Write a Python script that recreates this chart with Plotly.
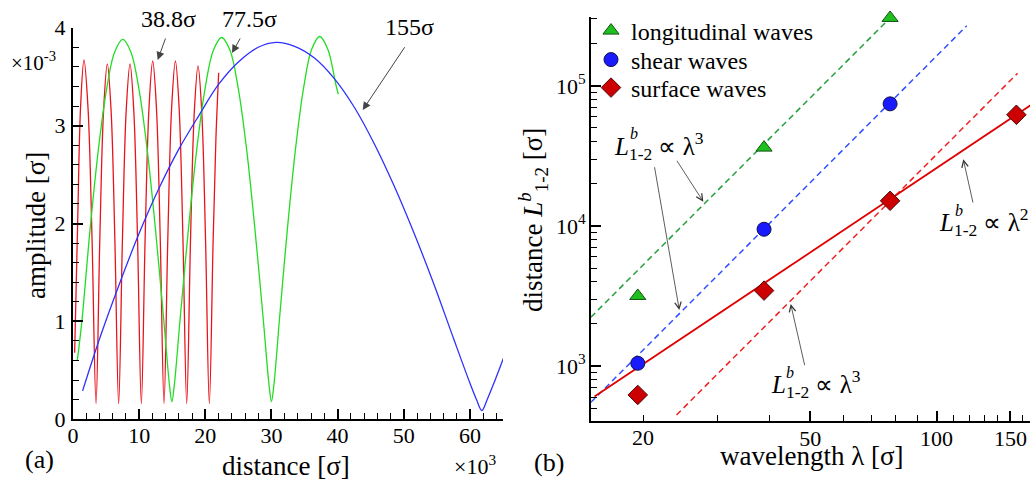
import plotly.graph_objects as go

W, H = 1030, 480
FONT = "Liberation Serif"

# ---------------- panel (a): amplitude vs distance ----------------
# distance in units of 10^3 sigma, amplitude in units of 10^-3 sigma
red_x = [0.25, 0.70, 1.15, 1.66, 2.27, 2.88, 3.48,
         4.05, 4.62, 5.19, 5.76, 6.33, 6.90,
         7.47, 8.04, 8.62, 9.19, 9.76, 10.33,
         10.90, 11.48, 12.05, 12.62, 13.19, 13.76,
         14.33, 14.90, 15.48, 16.05, 16.62, 17.19,
         17.76, 18.33, 18.90, 19.47, 20.04, 20.61,
         21.18, 21.60, 22.02]
red_y = [0.68, 2.00, 3.20, 3.67, 3.18, 1.84, 0.16,
         1.83, 3.15, 3.63, 3.15, 1.83, 0.16,
         1.83, 3.15, 3.63, 3.15, 1.83, 0.16,
         1.84, 3.17, 3.66, 3.17, 1.84, 0.16,
         1.84, 3.17, 3.66, 3.17, 1.84, 0.16,
         1.82, 3.13, 3.61, 3.13, 1.82, 0.16,
         1.82, 2.86, 3.54]

green_x = [0.65, 1.34, 2.58, 3.81, 5.05, 6.29, 7.53, 8.76, 10.00, 11.24, 12.47, 13.71, 14.60, 14.95,
           15.30, 16.20, 17.46, 18.71, 19.97, 21.22, 22.48, 23.73, 24.98, 26.24, 27.49, 28.75, 29.65, 30.00,
           30.35, 31.22, 32.43, 33.65, 34.87, 36.08, 37.30, 38.52, 39.73, 40.10]
green_y = [0.60, 1.00, 1.94, 2.74, 3.36, 3.75, 3.88, 3.75, 3.36, 2.74, 1.94, 1.02, 0.34, 0.18,
           0.34, 1.03, 1.95, 2.76, 3.38, 3.77, 3.90, 3.77, 3.38, 2.76, 1.95, 1.03, 0.34, 0.18,
           0.34, 1.03, 1.96, 2.77, 3.39, 3.78, 3.91, 3.78, 3.42, 3.32]

blue_x = [1.45, 4.0, 7.0, 10.0, 13.0, 16.0, 19.0, 22.0, 25.0, 28.0, 30.7, 33.5, 36.5, 39.5,
          42.5, 45.5, 48.5, 51.5, 54.5, 57.5, 60.0, 61.0, 61.8, 62.6, 63.8, 65.1]
blue_y = [0.29, 0.82, 1.38, 1.90, 2.36, 2.76, 3.10, 3.42, 3.65, 3.80, 3.85, 3.81, 3.69, 3.48,
          3.19, 2.82, 2.39, 1.91, 1.39, 0.83, 0.37, 0.20, 0.09, 0.20, 0.40, 0.63]

a_xticks = [0, 10, 20, 30, 40, 50, 60]
a_yticks = [0, 1, 2, 3, 4]

# ---------------- panel (b): distance L vs wavelength ----------------
lam_long = [19.4, 38.8, 77.5]
L_long = [3160, 36200, 305000]
lam_shear = [19.4, 38.8, 77.5]
L_shear = [1045, 9460, 74300]
lam_surf = [19.4, 38.8, 77.5, 155]
L_surf = [621, 3450, 15100, 62100]

# power-law guide lines (end points)
fit_long_lam, fit_long_L = [15, 77.5], [2230, 305000]
fit_shear_lam, fit_shear_L = [15, 118], [550, 268000]
fit_surf3_lam, fit_surf3_L = [24, 156], [447, 122800]
fit_surf2_lam, fit_surf2_L = [15.3, 175], [605, 79170]

b_xticks = [50, 100, 150]
b_xminor = [20, 30, 40, 60, 70, 80, 90, 110, 120, 130, 140, 160]
b_yticks = [1e3, 1e4, 1e5]
b_yticktext = ["10<sup>3</sup>", "10<sup>4</sup>", "10<sup>5</sup>"]
b_yminor = [400, 500, 600, 700, 800, 900,
            2000, 3000, 4000, 5000, 6000, 7000, 8000, 9000,
            20000, 30000, 40000, 50000, 60000, 70000, 80000, 90000,
            200000, 300000]

fig = go.Figure()

# panel (a) curves
fig.add_trace(go.Scatter(x=red_x, y=red_y, mode="lines", xaxis="x", yaxis="y",
                         line=dict(color="#e8141c", width=1.3, shape="spline", smoothing=1),
                         showlegend=False, hoverinfo="skip"))
fig.add_trace(go.Scatter(x=green_x, y=green_y, mode="lines", xaxis="x", yaxis="y",
                         line=dict(color="#22dd22", width=1.3, shape="spline", smoothing=1),
                         showlegend=False, hoverinfo="skip"))
fig.add_trace(go.Scatter(x=blue_x, y=blue_y, mode="lines", xaxis="x", yaxis="y",
                         line=dict(color="#3030ff", width=1.3, shape="spline", smoothing=1),
                         showlegend=False, hoverinfo="skip"))

# panel (b) guide lines
dash = "6px,4px"
fig.add_trace(go.Scatter(x=fit_long_lam, y=fit_long_L, mode="lines", xaxis="x2", yaxis="y2",
                         line=dict(color="#22a03a", width=1.5, dash=dash), showlegend=False))
fig.add_trace(go.Scatter(x=fit_shear_lam, y=fit_shear_L, mode="lines", xaxis="x2", yaxis="y2",
                         line=dict(color="#3050ff", width=1.5, dash=dash), showlegend=False))
fig.add_trace(go.Scatter(x=fit_surf3_lam, y=fit_surf3_L, mode="lines", xaxis="x2", yaxis="y2",
                         line=dict(color="#ee2020", width=1.5, dash=dash), showlegend=False))
fig.add_trace(go.Scatter(x=fit_surf2_lam, y=fit_surf2_L, mode="lines", xaxis="x2", yaxis="y2",
                         line=dict(color="#e00000", width=1.8), showlegend=False))

# panel (b) data points (one legend each so rows can sit close together)
fig.add_trace(go.Scatter(x=lam_long, y=L_long, mode="markers", xaxis="x2", yaxis="y2",
                         name="longitudinal waves", legend="legend", cliponaxis=False,
                         marker=dict(symbol="triangle-up", size=14, color="#1ec01e",
                                     line=dict(color="#145214", width=1))))
fig.add_trace(go.Scatter(x=lam_shear, y=L_shear, mode="markers", xaxis="x2", yaxis="y2",
                         name="shear waves", legend="legend2", cliponaxis=False,
                         marker=dict(symbol="circle", size=14, color="#1a1aff",
                                     line=dict(color="#10104a", width=1))))
fig.add_trace(go.Scatter(x=lam_surf, y=L_surf, mode="markers", xaxis="x2", yaxis="y2",
                         name="surface waves", legend="legend3", cliponaxis=False,
                         marker=dict(symbol="diamond", size=15, color="#cc0000",
                                     line=dict(color="#4a0a0a", width=1))))


def px(xp):
    return xp / W


def py(yp):
    return 1 - yp / H


axis_common = dict(showline=True, linecolor="black", linewidth=2, ticks="inside",
                   tickcolor="black", tickwidth=1.6, ticklen=10, showgrid=False,
                   zeroline=False, mirror=False, automargin=False,
                   tickfont=dict(family=FONT, size=22, color="black"))


def legend_at(yc):
    return dict(x=px(591), y=py(yc), xanchor="left", yanchor="middle",
                font=dict(family=FONT, size=24, color="black"),
                bgcolor="rgba(0,0,0,0)", borderwidth=0)


fig.update_layout(
    width=W, height=H, autosize=False,
    margin=dict(l=0, r=0, t=0, b=0, pad=0, autoexpand=False),
    paper_bgcolor="white", plot_bgcolor="white",
    font=dict(family=FONT, color="black"),
    xaxis=dict(domain=[px(73), px(503)], range=[0, 65], anchor="y",
               tickmode="array", tickvals=a_xticks, ticklabelstandoff=-5,
               minor=dict(dtick=2, tick0=0, ticks="inside", ticklen=6, tickwidth=1, tickcolor="black"),
               **axis_common),
    yaxis=dict(domain=[py(419.3), py(27.7)], range=[0, 4], anchor="x",
               tickmode="array", tickvals=a_yticks, ticklabelstandoff=1,
               minor=dict(dtick=0.2, tick0=0, ticks="inside", ticklen=6, tickwidth=1, tickcolor="black"),
               **axis_common),
    xaxis2=dict(type="log", domain=[px(591), 1.0], range=[1.1763, 2.2228], anchor="y2",
                tickmode="array", tickvals=b_xticks, ticktext=[str(v) for v in b_xticks],
                ticklabelstandoff=-3,
                minor=dict(tickmode="array", tickvals=b_xminor, ticks="inside", ticklen=6,
                           tickwidth=1, tickcolor="black"),
                **axis_common),
    yaxis2=dict(type="log", domain=[py(421), py(17.3)], range=[2.607, 5.489], anchor="x2",
                tickmode="array", tickvals=b_yticks, ticktext=b_yticktext, ticklabelstandoff=-1,
                minor=dict(tickmode="array", tickvals=b_yminor, ticks="inside", ticklen=6,
                           tickwidth=1, tickcolor="black"),
                **axis_common),
    legend=legend_at(31),
    legend2=legend_at(60),
    legend3=legend_at(88),
)

ann = []


def text(x, y, s, size=24, xanchor="center", yanchor="middle", angle=0):
    ann.append(dict(x=px(x), y=py(y), xref="paper", yref="paper", text=s, showarrow=False,
                    xanchor=xanchor, yanchor=yanchor, textangle=angle,
                    font=dict(family=FONT, size=size, color="black")))


def arrow(hx, hy, tx, ty, head=2, size=1.5, color="#333333", width=1.0):
    ann.append(dict(x=px(hx), y=py(hy), xref="paper", yref="paper", text="",
                    showarrow=True, ax=tx - hx, ay=ty - hy, axref="pixel", ayref="pixel",
                    arrowhead=head, arrowsize=size, arrowwidth=width, arrowcolor=color))


# panel (a) texts
text(168.3, 19, "38.8σ")
text(249.2, 19, "77.5σ")
text(409.2, 27, "155σ")
text(9, 62, "×10<sup>-3</sup>", size=21, xanchor="left")
text(452, 465, "×10<sup>3</sup>", size=22, xanchor="left")
text(23, 459, "(a)", size=26, xanchor="left")
text(286, 466, "distance [σ]", size=27)
text(36, 226, "amplitude [σ]", size=27, angle=-90)
arrow(157.7, 60, 166, 37, head=2, size=1.6, color="#444444")
arrow(232, 53, 241, 37, head=2, size=1.6, color="#444444")
arrow(362.7, 110, 405.7, 45.7, head=2, size=1.6, color="#444444")

# panel (b) texts
text(531.7, 462, "(b)", size=26, xanchor="left")
text(811.7, 456, "wavelength λ [σ]", size=27)
text(533, 220, "distance <i>L</i><sup><i>b</i></sup><sub>1-2</sub> [σ]", size=27, angle=-90)
text(643.3, 437, "20", size=22)

lab3 = "<i>L</i><sub>1-2</sub> ∝ λ<sup>3</sup>"
lab2 = "<i>L</i><sub>1-2</sub> ∝ λ<sup>2</sup>"
text(612, 146, lab3, size=25, xanchor="left")
text(634, 133, "<i>b</i>", size=16)
text(937, 222, lab2, size=25, xanchor="left")
text(958.5, 210, "<i>b</i>", size=16)
text(769, 384, lab3, size=25, xanchor="left")
text(790, 372, "<i>b</i>", size=16)

arrow(703.3, 201.7, 676, 159.3, head=5, size=1.6, color="#333333", width=0.8)
arrow(679.3, 310, 654.3, 165.7, head=5, size=1.6, color="#333333", width=0.8)
arrow(963.3, 159.3, 973.3, 204, head=5, size=1.6, color="#333333", width=0.8)
arrow(790.7, 304, 805, 366.7, head=5, size=1.6, color="#333333", width=0.8)

fig.update_layout(annotations=ann)

fig.write_html("out.html")
